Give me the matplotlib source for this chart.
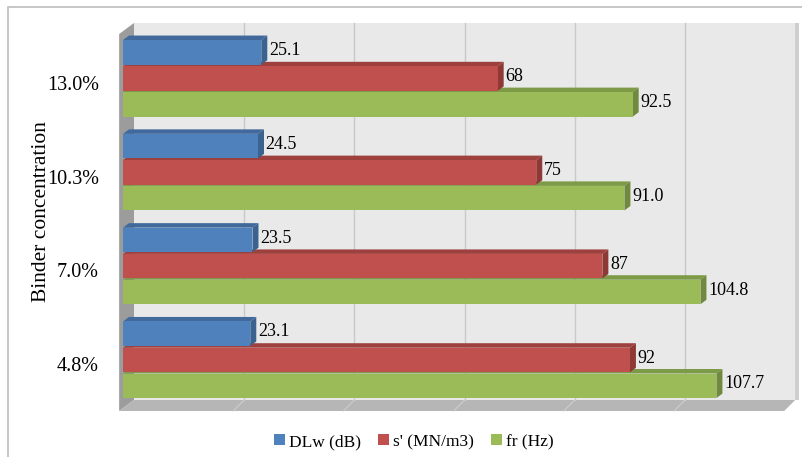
import matplotlib.pyplot as plt
from matplotlib.patches import Rectangle, Polygon

# data
categories = ["4.8%", "7.0%", "10.3%", "13.0%"]
series_names = ["DLw (dB)", "s' (MN/m3)", "fr (Hz)"]
dlw = [23.1, 23.5, 24.5, 25.1]
s_prime = [92, 87, 75, 68]
fr = [107.7, 104.8, 91.0, 92.5]
label_fmt = ["{:.1f}", "{:.0f}", "{:.1f}"]

front_col = ["#4F81BD", "#C0504D", "#9BBB59"]
side_col = ["#3A6390", "#8E3936", "#6F8A3D"]
top_col = ["#41699B", "#9E413E", "#7D9A47"]

plt.rcParams['font.family'] = ['Liberation Serif', 'DejaVu Serif']

W, H = 803, 457
fig = plt.figure(figsize=(W / 100, H / 100), dpi=100)

# axes spans pixels x 110..800, y 15..420
L, R, T, B = 110, 800, 15, 420
ax = fig.add_axes([L / W, 1 - B / H, (R - L) / W, (B - T) / H])

px_x = 5.51   # pixels per value unit
px_y = 93.8   # pixels per category
x0_px = 123
c0_px = 360   # pixel row of category 0 centre
ax.set_xlim((L - x0_px) / px_x, (R - x0_px) / px_x)
ax.set_ylim((c0_px - B) / px_y, (c0_px - T) / px_y)

xmax = 120
DX, DY = 11 / px_x, 11 / px_y          # wall depth
floor_back = (c0_px - 400) / px_y
floor_front = floor_back - DY
wall_top = (c0_px - 23) / px_y

# back wall, left wall, floor
ax.add_patch(Rectangle((DX, floor_back), xmax, wall_top - floor_back,
                       facecolor="#E9E9E9", edgecolor="none", zorder=0))
ax.add_patch(Rectangle((xmax + DX, floor_back), 0.6, wall_top - floor_back,
                       facecolor="#CFCFCF", edgecolor="none", zorder=0))
ax.add_patch(Polygon([(-0.7, floor_front), (DX, floor_back), (DX, wall_top),
                      (-0.7, wall_top - DY)], closed=True,
                     facecolor="#9C9C9C", edgecolor="none", zorder=1))
ax.add_patch(Polygon([(-0.7, floor_front), (DX, floor_back),
                      (xmax + DX, floor_back), (xmax, floor_front)], closed=True,
                     facecolor="#B6B6B6", edgecolor="none", zorder=1))
for g in range(20, xmax, 20):
    ax.plot([g + DX, g + DX], [floor_back, wall_top], color="#C9C9C9", lw=1, zorder=2)
    ax.plot([g, g + DX], [floor_front, floor_back], color="#CDCDCD", lw=0.8, zorder=2)

# bars
values = [dlw, s_prime, fr]
offsets = [0.28, 0.0, -0.275]
bh = 0.262
bdx, bdy = 6 / px_x, 4.5 / px_y
for i in range(len(categories)):
    for s in [2, 1, 0]:
        v = values[s][i]
        yc = i + offsets[s]
        z = 10 + i * 10 + (2 - s) * 3
        y_lo, y_hi = yc - bh / 2, yc + bh / 2
        ax.barh(yc, v, height=bh, color=front_col[s], zorder=z + 2,
                edgecolor="none")
        ax.add_patch(Polygon([(0, y_hi), (v, y_hi), (v + bdx, y_hi + bdy),
                              (bdx, y_hi + bdy)], closed=True,
                             facecolor=top_col[s], edgecolor="none", zorder=z))
        ax.add_patch(Polygon([(v, y_lo), (v + bdx, y_lo + bdy),
                              (v + bdx, y_hi + bdy), (v, y_hi)], closed=True,
                             facecolor=side_col[s], edgecolor="none", zorder=z + 1))
        ax.text(v + bdx + 0.3, yc + 0.02, label_fmt[s].format(v), fontsize=13,
                ha="left", va="center", zorder=100)

ax.set_yticks([i - 0.045 for i in range(len(categories))])
ax.set_yticklabels(categories, fontsize=14.5)
ax.tick_params(axis="y", length=0, pad=8)
ax.set_xticks([])
for sp in ax.spines.values():
    sp.set_visible(False)
ax.patch.set_visible(False)

ax.set_ylabel("Binder concentration", fontsize=15.5)
ax.yaxis.set_label_coords((51 - L) / (R - L), (B - 212) / (B - T))

# legend
handles = [Rectangle((0, 0), 1, 1, facecolor=c) for c in front_col]
fig.legend(handles, series_names, loc="center", bbox_to_anchor=(414 / W, 1 - 442 / H),
           ncol=3, frameon=False, fontsize=12.5, handlelength=0.6, handleheight=0.6,
           handletextpad=0.25, columnspacing=1.0)

# outer border (top and left visible)
fig.add_artist(Rectangle((8 / W, -0.05), 1.05, 1 - 7 / H + 0.05, transform=fig.transFigure,
                         facecolor="none", edgecolor="#BDBDBD", lw=1.2))

fig.savefig("out.png", dpi=100)
